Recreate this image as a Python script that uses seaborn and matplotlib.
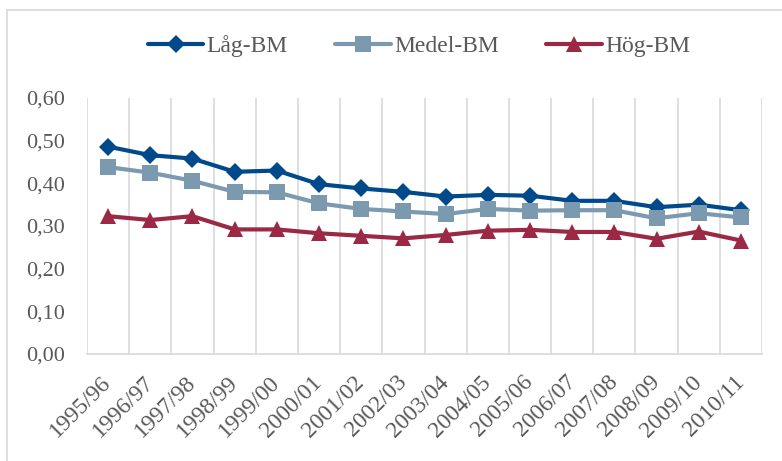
import matplotlib
matplotlib.use("Agg")
import matplotlib.pyplot as plt
from matplotlib.lines import Line2D
import numpy as np
import pandas as pd
import seaborn as sns

seasons = ["1995/96", "1996/97", "1997/98", "1998/99", "1999/00", "2000/01",
           "2001/02", "2002/03", "2003/04", "2004/05", "2005/06", "2006/07",
           "2007/08", "2008/09", "2009/10", "2010/11"]
lag_bm = [0.486, 0.466, 0.458, 0.427, 0.430, 0.398, 0.388, 0.380,
          0.369, 0.373, 0.371, 0.359, 0.359, 0.344, 0.350, 0.337]
medel_bm = [0.438, 0.425, 0.406, 0.380, 0.379, 0.353, 0.340, 0.334,
            0.328, 0.340, 0.336, 0.337, 0.337, 0.318, 0.330, 0.320]
hog_bm = [0.323, 0.314, 0.323, 0.292, 0.292, 0.283, 0.277, 0.271,
          0.279, 0.289, 0.291, 0.286, 0.286, 0.270, 0.287, 0.266]
series_names = ["Låg-BM", "Medel-BM", "Hög-BM"]
y_ticks = [0.0, 0.1, 0.2, 0.3, 0.4, 0.5, 0.6]

colors = ["#004A8B", "#7B9AAF", "#9B2844"]
markers = ["D", "s", "^"]
marker_sizes = [9.0, 12.0, 12.0]
text_color = "#595959"
grid_color = "#D9D9D9"

sns.set_theme(style="white")
plt.rcParams["font.family"] = ["Liberation Serif", "DejaVu Serif"]

pos = np.arange(len(seasons))

fig = plt.figure(figsize=(7.82, 4.61), dpi=100)
ax = fig.add_axes([87 / 782, 1 - 354 / 461, (762 - 87) / 782, (354 - 98) / 461])

for name, vals, col, mk, ms in zip(series_names, [lag_bm, medel_bm, hog_bm],
                                   colors, markers, marker_sizes):
    frame = pd.DataFrame({"pos": pos, "value": vals})
    sns.lineplot(data=frame, x="pos", y="value", color=col, marker=mk,
                 markersize=ms, markeredgewidth=0, linewidth=3.0,
                 label=name, ax=ax)

# category-boundary gridlines
for b in np.arange(-0.5, len(seasons) + 0.5, 1.0):
    ax.axvline(b, color=grid_color, linewidth=1.2, zorder=0)

ax.set_xlim(-0.5, len(seasons) - 0.5)
ax.set_ylim(0, 0.6)
ax.set_yticks(y_ticks)
ax.set_yticklabels([f"{v:.2f}".replace(".", ",") for v in y_ticks])
ax.set_xticks(pos)
ax.set_xticklabels(seasons, rotation=45, ha="right", va="center",
                   rotation_mode="anchor")
ax.tick_params(axis="x", length=0, pad=18, labelsize=17, labelcolor=text_color)
ax.tick_params(axis="y", length=0, pad=16, labelsize=16, labelcolor=text_color)
ax.set_xlabel("")
ax.set_ylabel("")
for side in ["top", "right", "left"]:
    ax.spines[side].set_visible(False)
ax.spines["bottom"].set_color(grid_color)
ax.spines["bottom"].set_linewidth(1.2)

handles, labels = ax.get_legend_handles_labels()
ax.legend(handles=handles, labels=labels, loc="center",
          bbox_to_anchor=(419 / 782, 1 - 46 / 461), bbox_transform=fig.transFigure,
          ncol=3, frameon=False, fontsize=17, handlelength=2.35,
          handletextpad=0.15, columnspacing=2.0, labelcolor=text_color)

# outer chart border
fig.add_artist(Line2D([7 / 782, 1.0], [1 - 10 / 461, 1 - 10 / 461],
                      color=grid_color, linewidth=1.2, transform=fig.transFigure))
fig.add_artist(Line2D([7 / 782, 7 / 782], [0.0, 1 - 10 / 461],
                      color=grid_color, linewidth=1.2, transform=fig.transFigure))

fig.savefig("out.png", dpi=100)
